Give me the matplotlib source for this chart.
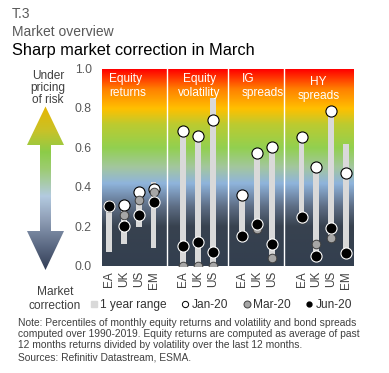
import numpy as np
import matplotlib
matplotlib.use("Agg")
import matplotlib.pyplot as plt
from matplotlib.colors import LinearSegmentedColormap
from matplotlib.patches import Polygon
from matplotlib.lines import Line2D

plt.rcParams['font.family'] = ['Liberation Sans', 'DejaVu Sans']

# ---- data ----
groups = ["Equity\nreturns", "Equity\nvolatility", "IG\nspreads", "HY\nspreads"]
tick_labels = ["EA", "UK", "US", "EM", "EA", "UK", "US", "EA", "UK", "US", "EA", "UK", "US", "EM"]
range_low = [0.067, 0.108, 0.197, 0.087, 0.0, 0.0, 0.0, 0.151, 0.184, 0.037, 0.235, 0.048, 0.138, 0.060]
range_high = [0.302, 0.307, 0.372, 0.425, 0.684, 0.656, 0.849, 0.358, 0.570, 0.603, 0.654, 0.498, 0.786, 0.617]
jan20 = [0.302, 0.307, 0.372, 0.387, 0.684, 0.656, 0.739, 0.358, 0.570, 0.603, 0.654, 0.498, 0.786, 0.468]
mar20 = [0.300, 0.256, 0.332, 0.372, 0.0, 0.0, 0.0, 0.155, 0.184, 0.037, 0.235, 0.109, 0.138, 0.060]
jun20 = [0.302, 0.202, 0.256, 0.324, 0.099, 0.121, 0.069, 0.151, 0.211, 0.108, 0.248, 0.048, 0.189, 0.065]

# category positions with gaps between groups
xpos = [0, 1, 2, 3, 5, 6, 7, 9, 10, 11, 13, 14, 15, 16]
separators = [3.9, 8.0, 11.8]

W, H = 389, 373
fig = plt.figure(figsize=(W / 100, H / 100), dpi=100)

def fx(px):
    return px / W

def fy(py):
    return 1 - py / H

# ---- main axes ----
left, right, top, bottom = 101.7, 353.3, 68.5, 265.5
ax = fig.add_axes([fx(left), fy(bottom), fx(right - left), (bottom - top) / H])

bg_stops = [(0.0, "#333f4f"), (0.20, "#38424f"), (0.30, "#5d6d84"), (0.42, "#8fb4dc"),
            (0.50, "#a3c6a0"), (0.60, "#92d050"), (0.72, "#bccb30"), (0.80, "#ffc000"),
            (0.90, "#ff8000"), (1.0, "#ff0000")]
cmap_bg = LinearSegmentedColormap.from_list("bg", bg_stops)
grad = np.linspace(0, 1, 256).reshape(-1, 1)
ax.imshow(grad, extent=[-0.5, 16.5, 0, 1], origin="lower", aspect="auto", cmap=cmap_bg, zorder=0)

for s in separators:
    ax.axvline(s, color="white", lw=1.0, zorder=1)

ax.bar(xpos, np.array(range_high) - np.array(range_low), bottom=range_low, width=0.38,
       color="#d9d9d9", zorder=2)
ax.plot(xpos, jan20, ls="none", marker="o", ms=8, mfc="white", mec="black", mew=0.8, zorder=3)
ax.plot(xpos, mar20, ls="none", marker="o", ms=6.2, mfc="#a6a6a6", mec="#404040", mew=0.7, zorder=4)
ax.plot(xpos, jun20, ls="none", marker="o", ms=8, mfc="black", mec="white", mew=0.8, zorder=5)

ax.set_xlim(-0.5, 16.5)
ax.set_ylim(0, 1)
ax.set_yticks(np.arange(0, 1.01, 0.2))
ax.set_yticklabels([f"{v:.1f}" for v in np.arange(0, 1.01, 0.2)])
ax.set_xticks(xpos)
ax.set_xticklabels(tick_labels, rotation=90)
ax.tick_params(axis="y", length=0, pad=7, labelsize=8.8, labelcolor="#595959")
ax.tick_params(axis="x", length=0, pad=4, labelsize=8.5, labelcolor="#404040")
for sp in ax.spines.values():
    sp.set_visible(False)

# group labels
kw = dict(color="white", fontsize=8.6, va="top", linespacing=1.15, zorder=6)
ax.text(0.0, 0.975, groups[0], ha="left", **kw)
ax.text(6.1, 0.975, groups[1], ha="center", multialignment="center", **kw)
ax.text(8.95, 0.975, groups[2], ha="left", **kw)
ax.text(14.15, 0.96, groups[3], ha="center", multialignment="center", **kw)

# legend
handles = [
    Line2D([], [], ls="none", marker="s", ms=4.5, mfc="#d9d9d9", mec="#d9d9d9"),
    Line2D([], [], ls="none", marker="o", ms=4.5, mfc="white", mec="black", mew=0.7),
    Line2D([], [], ls="none", marker="o", ms=5, mfc="#a6a6a6", mec="#404040", mew=0.7),
    Line2D([], [], ls="none", marker="o", ms=3.5, mfc="black", mec="black"),
]
fig.legend(handles, ["1 year range", "Jan-20", "Mar-20", "Jun-20"], ncol=4, frameon=False,
           loc="center left", bbox_to_anchor=(fx(90), fy(305)), fontsize=8.6,
           handlelength=0.6, handletextpad=0.25, columnspacing=1.25, labelcolor="#333333",
           borderaxespad=0, borderpad=0)

# ---- arrow ----
axa = fig.add_axes([fx(20), fy(275), fx(55), (275 - 100) / H])
axa.set_xlim(20, 75)
axa.set_ylim(275, 100)
axa.axis("off")
arrow_stops = [(0.0, "#323d55"), (0.15, "#5d6b85"), (0.3, "#8d9cb4"), (0.45, "#b3cae0"),
               (0.62, "#9ccc70"), (0.72, "#8ccc48"), (0.85, "#c8c228"), (1.0, "#e8b600")]
cmap_ar = LinearSegmentedColormap.from_list("ar", arrow_stops)
im = axa.imshow(np.linspace(0, 1, 256).reshape(-1, 1), extent=[20, 75, 270, 106.5], origin="lower",
                aspect="auto", cmap=cmap_ar)
verts = [(45.5, 106.5), (64, 145), (51, 145), (51, 231), (64, 231), (45.5, 270),
         (27, 231), (40, 231), (40, 145), (27, 145)]
poly = Polygon(verts, closed=True, facecolor="none", edgecolor="none", transform=axa.transData)
axa.add_patch(poly)
im.set_clip_path(poly)

# ---- texts ----
fig.text(fx(12), fy(14), "T.3", fontsize=10, color="#595959", va="center", ha="left")
fig.text(fx(12), fy(32), "Market overview", fontsize=10, color="#595959", va="center", ha="left")
fig.text(fx(12), fy(51), "Sharp market correction in March", fontsize=11.8, color="black", va="center", ha="left")
fig.text(fx(48), fy(88), "Under\npricing\nof risk", fontsize=8.6, color="#404040", ha="center", va="center", linespacing=1.05)
fig.text(fx(55), fy(299), "Market\ncorrection", fontsize=8.6, color="#404040", ha="center", va="center", linespacing=1.15)

note_lines = [
    "Note: Percentiles of monthly equity returns and volatility and bond spreads",
    "computed over 1990-2019. Equity returns are computed as average of past",
    "12 months returns divided by volatility over the last 12 months.",
    "Sources: Refinitiv Datastream, ESMA.",
]
for i, line in enumerate(note_lines):
    fig.text(fx(18), fy(322.5 + i * 11.5), line, fontsize=7.4, color="#404040", va="center", ha="left")

fig.savefig("out.png", dpi=100)
